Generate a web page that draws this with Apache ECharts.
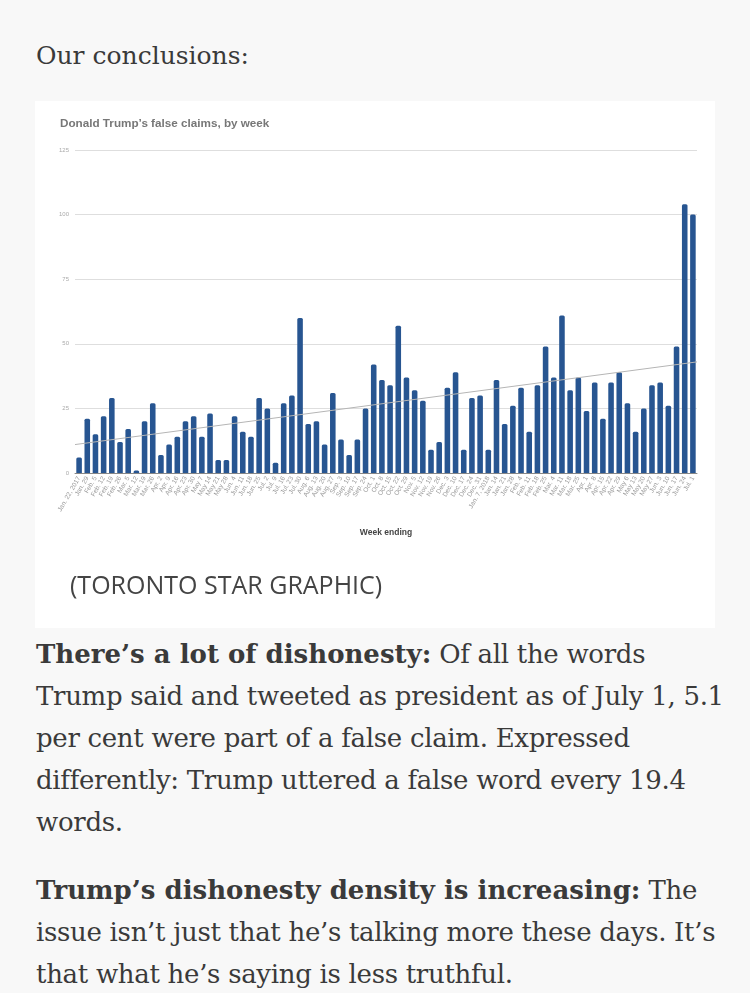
<!DOCTYPE html>
<html>
<head>
<meta charset="utf-8">
<script src="https://cdn.jsdelivr.net/npm/echarts@6/dist/echarts.min.js"></script>
<style>
  html, body { margin: 0; padding: 0; }
  body { width: 750px; height: 993px; background: #f8f8f8; position: relative; overflow: hidden;
         font-family: "DejaVu Serif", serif; color: #3a3a3a; }
  .lead { position: absolute; left: 36px; top: 37px; font-size: 25px; line-height: 38px; }
  .card { position: absolute; left: 35px; top: 101px; width: 680px; height: 527px; background: #fff; }
  #chart { position: absolute; left: 0; top: 0; width: 680px; height: 527px; }
  .caption { position: absolute; left: 35px; top: 466px; font-family: "Open Sans", sans-serif;
             font-size: 25px; color: #444; }
  .para { position: absolute; left: 36px; font-size: 26px; line-height: 42px; white-space: nowrap; letter-spacing: -0.3px; }
  .para b { font-weight: bold; letter-spacing: 0; }
</style>
</head>
<body>
<div class="lead">Our conclusions:</div>
<div class="card">
  <div id="chart"></div>
  <div class="caption">(TORONTO STAR GRAPHIC)</div>
</div>
<div class="para" style="top:633px">
  <b>There’s a lot of dishonesty:</b> Of all the words<br>
  Trump said and tweeted as president as of July 1, 5.1<br>
  per cent were part of a false claim. Expressed<br>
  differently: Trump uttered a false word every 19.4<br>
  words.
</div>
<div class="para" style="top:869px">
  <b>Trump’s dishonesty density is increasing:</b> The<br>
  issue isn’t just that he’s talking more these days. It’s<br>
  that what he’s saying is less truthful.
</div>
<script>
const weeks = [
  'Jan. 22, 2017', 'Jan. 29', 'Feb. 5', 'Feb. 12', 'Feb. 19', 'Feb. 26', 'Mar. 5', 'Mar. 12',
  'Mar. 19', 'Mar. 26', 'Apr. 2', 'Apr. 9', 'Apr. 16', 'Apr. 23', 'Apr. 30', 'May 7',
  'May 14', 'May 21', 'May 28', 'Jun. 4', 'Jun. 11', 'Jun. 18', 'Jun. 25', 'Jul. 2',
  'Jul. 9', 'Jul. 16', 'Jul. 23', 'Jul. 30', 'Aug. 6', 'Aug. 13', 'Aug. 20', 'Aug. 27',
  'Sep. 3', 'Sep. 10', 'Sep. 17', 'Sep. 24', 'Oct. 1', 'Oct. 8', 'Oct. 15', 'Oct. 22',
  'Oct. 29', 'Nov. 5', 'Nov. 12', 'Nov. 19', 'Nov. 26', 'Dec. 3', 'Dec. 10', 'Dec. 17',
  'Dec. 24', 'Dec. 31', 'Jan. 7, 2018', 'Jan. 14', 'Jan. 21', 'Jan. 28', 'Feb. 4', 'Feb. 11',
  'Feb. 18', 'Feb. 25', 'Mar. 4', 'Mar. 11', 'Mar. 18', 'Mar. 25', 'Apr. 1', 'Apr. 8',
  'Apr. 15', 'Apr. 22', 'Apr. 29', 'May 6', 'May 13', 'May 20', 'May 27', 'Jun. 3',
  'Jun. 10', 'Jun. 17', 'Jun. 24', 'Jul. 1'
];

const falseClaims = [
  6, 21, 15, 22, 29, 12, 17, 1, 20, 27, 7, 11, 14, 20, 22, 14,
  23, 5, 5, 22, 16, 14, 29, 25, 4, 27, 30, 60, 19, 20, 11, 31,
  13, 7, 13, 25, 42, 36, 34, 57, 37, 32, 28, 9, 12, 33, 39, 9,
  29, 30, 9, 36, 19, 26, 33, 16, 34, 49, 37, 61, 32, 37, 24, 35,
  21, 35, 39, 27, 16, 25, 34, 35, 26, 49, 104, 100
];

// trend line as drawn: value at the left edge and at the right edge of the plot
const trendEnds = [11, 43];

const yTicks = [0, 25, 50, 75, 100, 125];

const chart = echarts.init(document.getElementById('chart'));

chart.setOption({
  animation: false,
  title: {
    text: 'Donald Trump’s false claims, by week',
    left: 20, top: 12,
    textStyle: { fontFamily: 'Liberation Sans, Arial', fontSize: 11.7, fontWeight: 'bold', color: '#777' }
  },
  grid: { left: 40, right: 18, top: 49, bottom: 155 },
  xAxis: [{
    type: 'category',
    data: weeks,
    name: 'Week ending',
    nameLocation: 'middle',
    nameGap: 55,
    nameTextStyle: { fontFamily: 'Liberation Sans, Arial', fontSize: 8.5, fontWeight: 'bold', color: '#444' },
    axisLine: { lineStyle: { color: '#888', width: 1 } },
    axisTick: { show: false },
    axisLabel: {
      interval: 0, rotate: 60, margin: 4,
      fontFamily: 'Liberation Sans, Arial', fontSize: 6.5, color: '#999'
    }
  }, {
    type: 'value', min: 0, max: 1, show: false
  }],
  yAxis: {
    type: 'value',
    min: yTicks[0], max: yTicks[yTicks.length - 1], interval: 25,
    axisLine: { show: false },
    axisTick: { show: false },
    axisLabel: { fontFamily: 'Liberation Sans, Arial', fontSize: 6, color: '#aaa', margin: 6 },
    splitLine: { lineStyle: { color: '#dedede', width: 1 } }
  },
  series: [{
    type: 'bar',
    data: falseClaims,
    barCategoryGap: '32%',
    itemStyle: { color: '#275591', borderRadius: [1.5, 1.5, 0, 0] }
  }, {
    type: 'line',
    xAxisIndex: 1,
    data: [[0, trendEnds[0]], [1, trendEnds[1]]],
    symbol: 'none',
    lineStyle: { color: '#b5b5b5', width: 1 },
    z: 5
  }]
});
</script>
</body>
</html>
